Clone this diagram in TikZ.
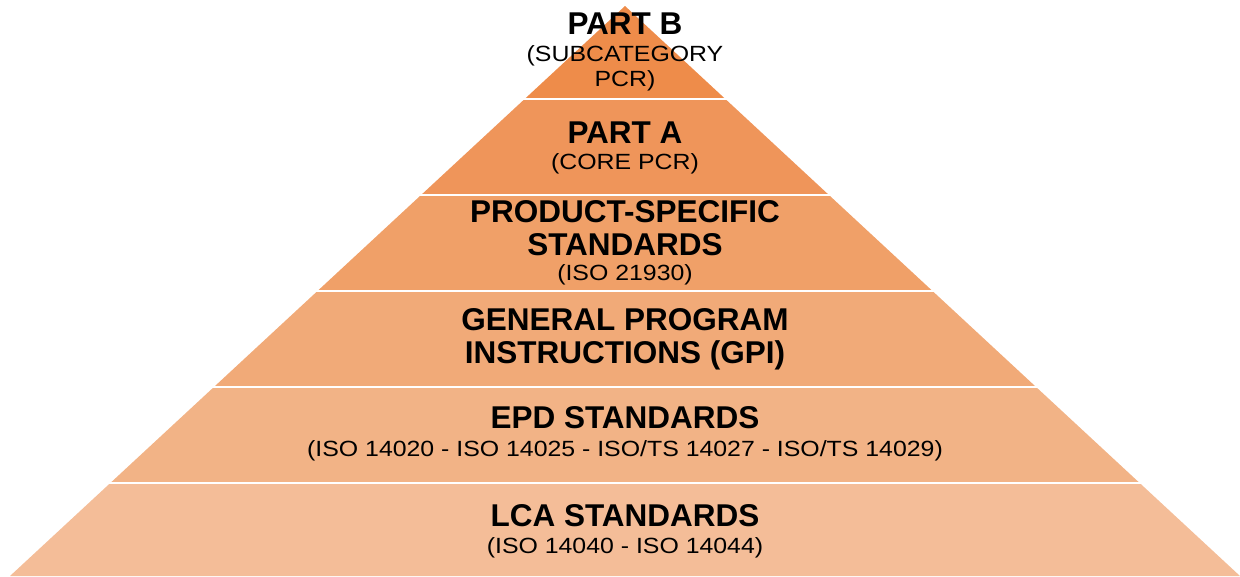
\documentclass[tikz,border=0pt]{standalone}
\usepackage{fontspec}
\setmainfont{Liberation Sans}
\newfontfamily\subfont[FakeStretch=1.13]{Liberation Sans}
\begin{document}
\begin{tikzpicture}[x=1pt,y=-1pt,
  head/.style={font=\fontsize{31.5}{33}\selectfont\bfseries, inner sep=0pt, anchor=center},
  sub/.style={font=\subfont\fontsize{22}{24}\selectfont, inner sep=0pt, anchor=center}]
\definecolor{bandB}{HTML}{EE8C4A}
\definecolor{bandA}{HTML}{EF955A}
\definecolor{bandPS}{HTML}{F0A068}
\definecolor{bandGPI}{HTML}{F1AA78}
\definecolor{bandEPD}{HTML}{F2B386}
\definecolor{bandLCA}{HTML}{F4BD98}
\useasboundingbox (0,0) rectangle (1240,576);
\coordinate (apex) at (625,6);
\coordinate (bl) at (10,576);
\coordinate (br) at (1240,576);
% pyramid bands, each the triangle cut to a horizontal strip
\foreach \top/\bot/\col in {0/97/bandB, 100/193/bandA, 196/289/bandPS, 292/385/bandGPI, 388/481/bandEPD, 484/577/bandLCA}{
  \begin{scope}
    \clip (0,\top) rectangle (1240,\bot);
    \fill[\col] (apex) -- (bl) -- (br) -- cycle;
  \end{scope}
}
% labels
\node[head] (bH) at (625,24) {PART B};
\node[sub] (bS1) at (625,56) {(SUBCATEGORY};
\node[sub] (bS2) at (625,81) {PCR)};
\node[head] (aH) at (625,133) {PART A};
\node[sub] (aS) at (625,164) {(CORE PCR)};
\node[head] (psH1) at (625,212) {PRODUCT-SPECIFIC};
\node[head] (psH2) at (625,245) {STANDARDS};
\node[sub] (psS) at (625,275) {(ISO 21930)};
\node[head] (gH1) at (625,320) {GENERAL PROGRAM};
\node[head] (gH2) at (625,355) {INSTRUCTIONS (GPI)};
\node[head] (eH) at (625,418) {EPD STANDARDS};
\node[sub] (eS) at (625,451) {(ISO 14020 - ISO 14025 - ISO/TS 14027 - ISO/TS 14029)};
\node[head] (lH) at (625,516) {LCA STANDARDS};
\node[sub] (lS) at (625,548) {(ISO 14040 - ISO 14044)};
\end{tikzpicture}
\end{document}
